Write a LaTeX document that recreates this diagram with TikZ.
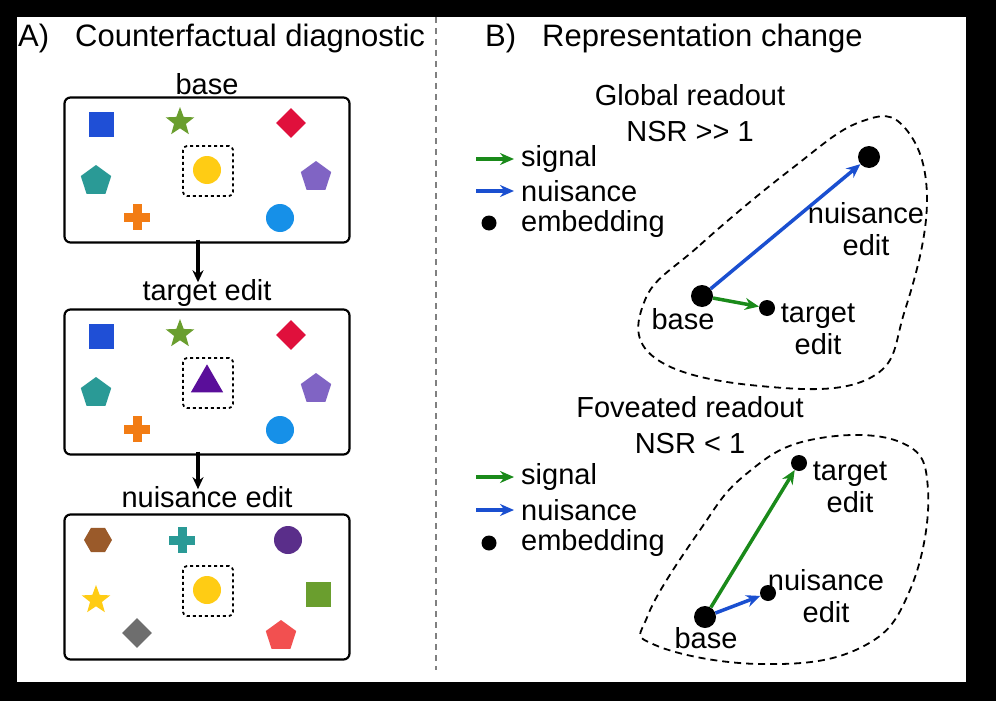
\documentclass[tikz,border=0pt]{standalone}
\usepackage{fontspec}
\setmainfont{Liberation Sans}
\usetikzlibrary{positioning, shapes.geometric, arrows.meta, calc}

\definecolor{cblue}{HTML}{1F4FD6}
\definecolor{cgreen}{HTML}{6A9E2E}
\definecolor{cred}{HTML}{E0103C}
\definecolor{cteal}{HTML}{2A9A96}
\definecolor{cpurple}{HTML}{8064C4}
\definecolor{corange}{HTML}{F27C14}
\definecolor{cazure}{HTML}{1690E8}
\definecolor{cyellow}{HTML}{FFCC14}
\definecolor{cviolet}{HTML}{5A0E9A}
\definecolor{cbrown}{HTML}{9A5A2A}
\definecolor{cdpurple}{HTML}{5A2E8A}
\definecolor{cgray}{HTML}{6E6E6E}
\definecolor{csalmon}{HTML}{F25050}
\definecolor{sgreen}{HTML}{1A8A1A}
\definecolor{sblue}{HTML}{1A4FD0}

\tikzset{
  txt/.style={font=\fontsize{29}{32}\selectfont, inner sep=0pt},
  head/.style={font=\fontsize{31}{34}\selectfont, inner sep=0pt},
  panel/.style={draw, rounded corners=6pt, line width=2.2pt, minimum width=285, minimum height=145},
  focus/.style={draw, dashed, rounded corners=4pt, line width=1.8pt, minimum size=50},
  sq/.style={fill=#1, minimum size=25, inner sep=0pt},
  dot/.style={circle, fill=#1, minimum size=28, inner sep=0pt},
  dia/.style={diamond, fill=#1, minimum size=30, inner sep=0pt},
  pent/.style={regular polygon, regular polygon sides=5, fill=#1, minimum size=32, inner sep=0pt},
  hexa/.style={regular polygon, regular polygon sides=6, fill=#1, minimum size=28, inner sep=0pt},
  strr/.style={star, star points=5, star point ratio=2.4, fill=#1, minimum size=30, inner sep=0pt},
  emb/.style={circle, fill=black, minimum size=#1, inner sep=0pt},
  editarrow/.style={-{Stealth[length=12pt, width=11pt]}, line width=3.5pt},
  vec/.style={-{Stealth[length=14pt, width=12pt]}, line width=3.5pt, #1},
  blob/.style={line width=1.8pt, dash pattern=on 7pt off 5pt},
}
\newcommand{\plus}[2]{\fill[#2] ($(#1)+(-13,-4.5)$) rectangle ($(#1)+(13,4.5)$);
  \fill[#2] ($(#1)+(-4.5,-13)$) rectangle ($(#1)+(4.5,13)$);}

\begin{document}
\begin{tikzpicture}[x=1pt, y=-1pt]
\fill[black] (0,0) rectangle (996,701);
\fill[white] (17,17) rectangle (966,682);
\useasboundingbox (0,0) rectangle (996,701);

% panel A
\node[head, anchor=west] (tA) at (18,38) {A)\hspace{26pt}Counterfactual diagnostic};
\draw[gray, line width=1.4pt, dash pattern=on 6pt off 5pt] (436,17) -- (436,670);

% base box
\node[txt] (lbase) at (207,84) {base};
\node[panel] (box1) at (207,170) {};
\node[sq=cblue] (s1) at (101,124) {};
\node[strr=cgreen] (s2) at (180,122) {};
\node[dia=cred] (s3) at (291,123) {};
\node[pent=cteal] (s4) at (96,181) {};
\node[pent=cpurple] (s5) at (316,177) {};
\node[dot=cazure] (s6) at (280,218) {};
\plus{137,217}{corange}
\node[focus] (f1) at (208,171) {};
\node[dot=cyellow] (c1) at (207,170) {};

% target box
\node[txt] (ltgt) at (207,293) {target edit};
\node[panel] (box2) at (207,382) {};
\node[sq=cblue] (t1) at (101,336) {};
\node[strr=cgreen] (t2) at (180,334) {};
\node[dia=cred] (t3) at (291,335) {};
\node[pent=cteal] (t4) at (96,393) {};
\node[pent=cpurple] (t5) at (316,389) {};
\node[dot=cazure] (t6) at (280,430) {};
\plus{137,429}{corange}
\node[focus] (f2) at (208,383) {};
\node[isosceles triangle, shape border rotate=90, isosceles triangle apex angle=60, fill=cviolet, minimum size=28, inner sep=0pt] (tri) at (207,383) {};

% nuisance box
\node[txt] (lnui) at (207,497) {nuisance edit};
\node[panel] (box3) at (207,587) {};
\node[hexa=cbrown] (n1) at (98,540) {};
\plus{182,540}{cteal}
\node[dot=cdpurple] (n2) at (288,540) {};
\node[strr=cyellow] (n3) at (96,600) {};
\node[sq=cgreen] (n4) at (318,594) {};
\node[dia=cgray] (n5) at (137,633) {};
\node[pent=csalmon] (n6) at (281,636) {};
\node[focus] (f3) at (208,591) {};
\node[dot=cyellow] (c3) at (207,590) {};

\draw[editarrow] ([yshift=4pt]box1.south -| 198,0) -- ([yshift=-3pt]ltgt.north -| 198,0);
\draw[editarrow] ([yshift=4pt]box2.south -| 198,0) -- ([yshift=-3pt]lnui.north -| 198,0);

% panel B
\node[head, anchor=west] (tB) at (485,38) {B)\hspace{26pt}Representation change};

% global readout
\node[txt, align=center] (hG) at (690,113) {Global readout\\[4pt]NSR {>}{>} 1};
\coordinate (g1) at (476,159); \coordinate (g2) at (514,159);
\coordinate (g3) at (476,191); \coordinate (g4) at (514,191);
\draw[vec=sgreen] (g1) -- (g2);
\draw[vec=sblue] (g3) -- (g4);
\node[emb=15] (ge) at (489,223) {};
\node[txt, anchor=west] at (521,159) {signal};
\node[txt, anchor=west] at (521,191) {nuisance};
\node[txt, anchor=west] at (521,224) {embedding};
\draw[blob] plot[smooth cycle, tension=0.7] coordinates
  {(645,300) (700,245) (790,170) (860,122) (905,128) (927,200) (905,310) (870,378) (760,386) (655,358)};
\node[emb=22] (gb) at (702,296) {};
\node[emb=16] (gt) at (767,308) {};
\node[emb=22] (gn) at (869,157) {};
\draw[vec=sblue] (gb) -- (gn);
\draw[vec=sgreen] (gb) -- (gt);
\node[txt] at (683,319) {base};
\node[txt, align=center] at (818,329) {target\\edit};
\node[txt, align=center] at (866,229) {nuisance\\edit};

% foveated readout
\node[txt, align=center] (hF) at (690,425) {Foveated readout\\[4pt]NSR < 1};
\coordinate (h1) at (476,477); \coordinate (h2) at (514,477);
\coordinate (h3) at (476,510); \coordinate (h4) at (514,510);
\draw[vec=sgreen] (h1) -- (h2);
\draw[vec=sblue] (h3) -- (h4);
\node[emb=15] (fe) at (489,543) {};
\node[txt, anchor=west] at (521,477) {signal};
\node[txt, anchor=west] at (521,510) {nuisance};
\node[txt, anchor=west] at (521,543) {embedding};
\draw[blob] plot[smooth cycle, tension=0.7] coordinates
  {(648,615) (700,530) (745,475) (810,440) (900,442) (928,490) (910,590) (860,648) (760,664) (655,645)};
\node[emb=22] (fb) at (705,617) {};
\node[emb=16] (ft) at (799,463) {};
\node[emb=16] (fn) at (768,593) {};
\draw[vec=sgreen] (fb) -- (ft);
\draw[vec=sblue] (fb) -- (fn);
\node[txt] at (706,638) {base};
\node[txt, align=center] at (850,487) {target\\edit};
\node[txt, align=center] at (826,596) {nuisance\\edit};
\end{tikzpicture}
\end{document}
